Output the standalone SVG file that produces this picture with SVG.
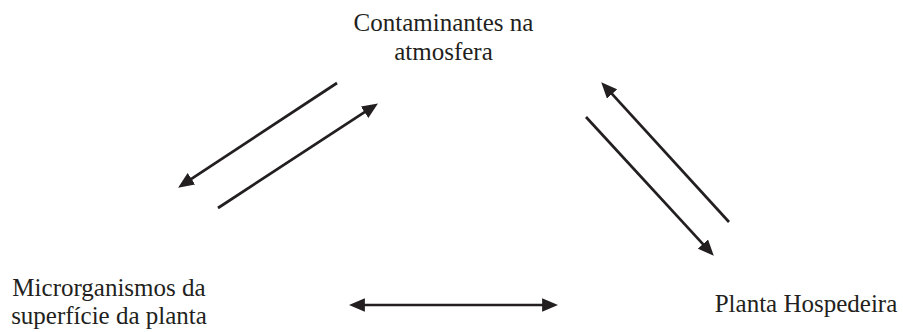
<svg xmlns="http://www.w3.org/2000/svg" width="903" height="332" viewBox="0 0 903 332">
<style>
.lbl{font-family:"Liberation Serif","Times New Roman",serif;font-size:25px;fill:#231f20;text-anchor:middle}
.con{stroke:#231f20;stroke-width:2.7;fill:none;marker-end:url(#ah)}
.dbl{marker-start:url(#ah)}
</style>
<defs>
<marker id="ah" markerUnits="userSpaceOnUse" markerWidth="16" markerHeight="14" viewBox="0 0 14 12" refX="6" refY="6" orient="auto-start-reverse">
<path d="M0,0 L14,6 L0,12 z" fill="#231f20"/>
</marker>
</defs>
<rect width="903" height="332" fill="#ffffff"/>
<g id="contaminantes">
<text class="lbl" x="443.5" y="31">Contaminantes na</text>
<text class="lbl" x="443.5" y="60">atmosfera</text>
</g>
<g id="microrganismos">
<text class="lbl" x="109" y="296">Microrganismos da</text>
<text class="lbl" x="109" y="324">superfície da planta</text>
</g>
<g id="planta">
<text class="lbl" x="806" y="312">Planta Hospedeira</text>
</g>
<g id="connectors">
<line class="con" x1="337" y1="83" x2="185.7" y2="182.6"/>
<line class="con" x1="218" y1="208" x2="370.3" y2="108.4"/>
<line class="con" x1="729" y1="222" x2="607.4" y2="88.9"/>
<line class="con" x1="586" y1="117" x2="707.6" y2="249.1"/>
<line class="con dbl" x1="358" y1="305" x2="549" y2="305"/>
</g>
</svg>
